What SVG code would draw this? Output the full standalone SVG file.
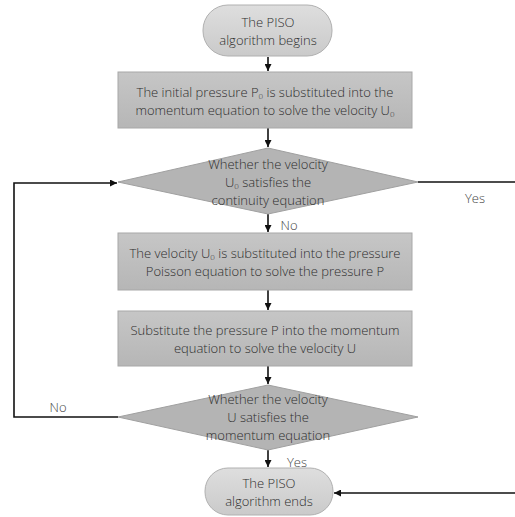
<svg xmlns="http://www.w3.org/2000/svg" width="515" height="517" viewBox="0 0 515 517">
<style>
text{font-family:"Open Sans","Noto Sans",sans-serif;font-weight:300;font-size:13px;fill:#2e2e2e;text-anchor:middle}
.lbl{fill:#444}
.sub{font-size:8px}
.pill{fill:url(#gp);stroke:#b0b0b0;stroke-width:1}
.box{fill:url(#gb);stroke:#a8a8a8;stroke-width:1}
.dia{fill:#b4b4b4;stroke:#a0a0a0;stroke-width:1}
.c{stroke:#111;stroke-width:1.6;fill:none}
</style>
<defs>
<linearGradient id="gp" x1="0" y1="0" x2="0" y2="1"><stop offset="0" stop-color="#dedede"/><stop offset="1" stop-color="#cacaca"/></linearGradient>
<linearGradient id="gb" x1="0" y1="0" x2="0" y2="1"><stop offset="0" stop-color="#c6c6c6"/><stop offset="1" stop-color="#b6b6b6"/></linearGradient>
<marker id="ar" viewBox="0 0 10 10" refX="10" refY="5" markerWidth="7" markerHeight="7" markerUnits="userSpaceOnUse" orient="auto"><path d="M0,0 L10,5 L0,10 z" fill="#111"/></marker>
</defs>
<rect width="515" height="517" fill="#fff"/>
<g id="connectors">
<line class="c" x1="268" y1="57" x2="268" y2="71" marker-end="url(#ar)"/>
<line class="c" x1="268" y1="128" x2="268" y2="147" marker-end="url(#ar)"/>
<line class="c" x1="268" y1="214" x2="268" y2="232" marker-end="url(#ar)"/>
<line class="c" x1="268" y1="290" x2="268" y2="310" marker-end="url(#ar)"/>
<line class="c" x1="268" y1="366" x2="268" y2="384" marker-end="url(#ar)"/>
<line class="c" x1="268" y1="450" x2="268" y2="467" marker-end="url(#ar)"/>
<line class="c" x1="418" y1="182" x2="515" y2="182"/>
<polyline class="c" points="118,417 14,417 14,183 117,183" marker-end="url(#ar)"/>
<line class="c" x1="515" y1="493" x2="334" y2="493" marker-end="url(#ar)"/>
<text class="lbl" x="475" y="203">Yes</text>
<text class="lbl" x="289" y="230">No</text>
<text class="lbl" x="58" y="412">No</text>
<text class="lbl" x="297" y="467">Yes</text>
</g>
<g id="start">
<rect class="pill" x="203" y="5" width="129" height="51" rx="25" ry="25"/>
<text x="268" y="27">The PISO</text>
<text x="268" y="45">algorithm begins</text>
</g>
<g id="step1">
<rect class="box" x="118" y="72" width="294" height="56"/>
<text x="265" y="97">The initial pressure P<tspan class="sub" dy="2">0</tspan><tspan dy="-2"> is substituted into the</tspan></text>
<text x="265" y="115">momentum equation to solve the velocity U<tspan class="sub" dy="2">0</tspan></text>
</g>
<g id="check1">
<polygon class="dia" points="268,148 418,182 268,214 118,182"/>
<text x="268" y="169">Whether the velocity</text>
<text x="268" y="187">U<tspan class="sub" dy="2">0</tspan><tspan dy="-2"> satisfies the</tspan></text>
<text x="268" y="205">continuity equation</text>
</g>
<g id="step2">
<rect class="box" x="118" y="233" width="294" height="57"/>
<text x="265" y="258">The velocity U<tspan class="sub" dy="2">0</tspan><tspan dy="-2"> is substituted into the pressure</tspan></text>
<text x="265" y="276">Poisson equation to solve the pressure P</text>
</g>
<g id="step3">
<rect class="box" x="118" y="311" width="294" height="55"/>
<text x="265" y="335">Substitute the pressure P into the momentum</text>
<text x="265" y="353">equation to solve the velocity U</text>
</g>
<g id="check2">
<polygon class="dia" points="268,385 418,417 268,450 118,417"/>
<text x="268" y="404">Whether the velocity</text>
<text x="268" y="422">U satisfies the</text>
<text x="268" y="440">momentum equation</text>
</g>
<g id="end">
<rect class="pill" x="205" y="468" width="128" height="47" rx="23" ry="23"/>
<text x="269" y="488">The PISO</text>
<text x="269" y="506">algorithm ends</text>
</g>
</svg>
